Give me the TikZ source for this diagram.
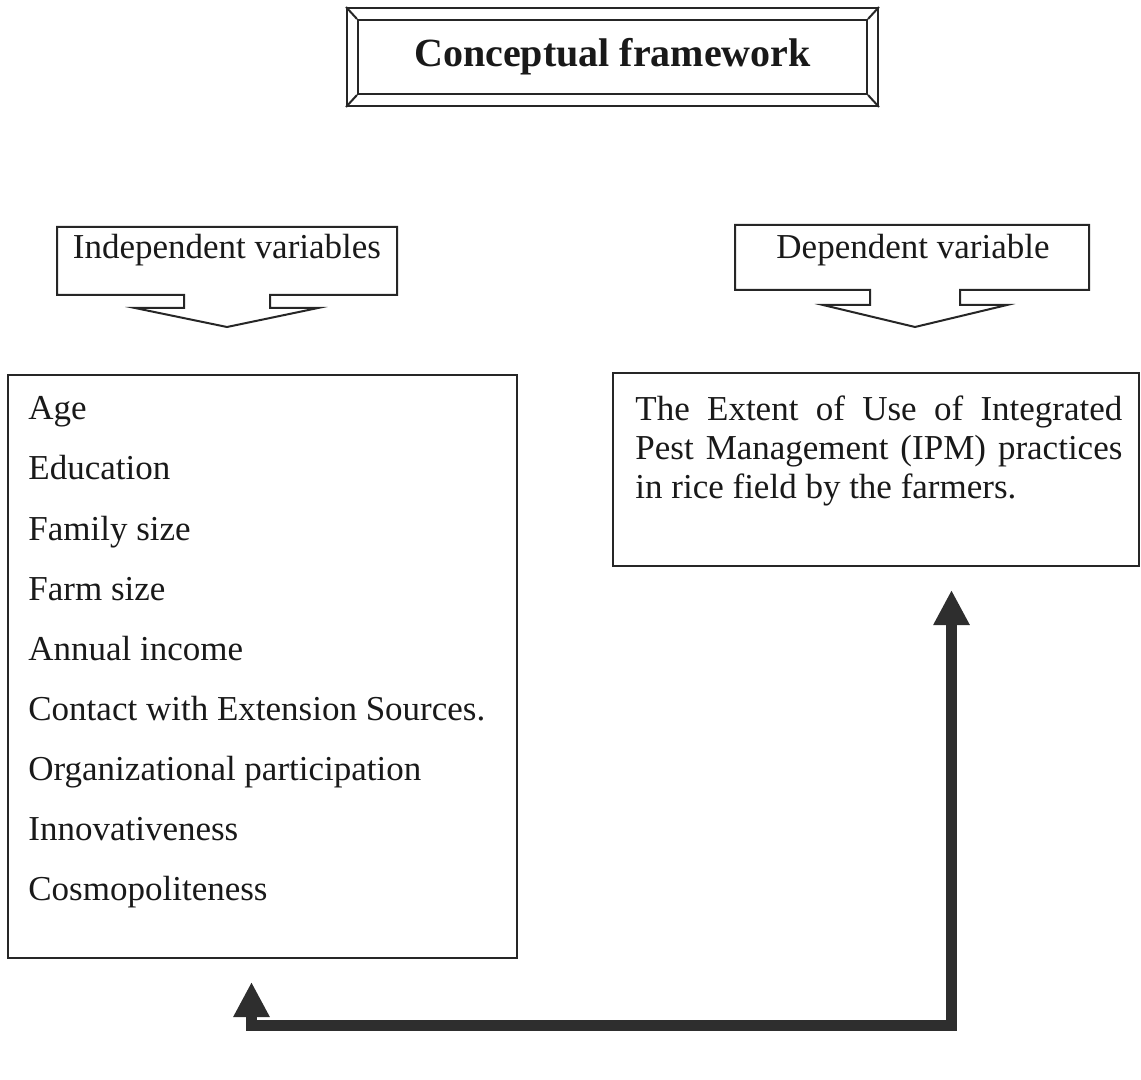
\documentclass[tikz,border=0pt]{standalone}
\usepackage{fontspec}
\setmainfont{Liberation Serif}
\usetikzlibrary{arrows.meta}
\begin{document}
\begin{tikzpicture}[x=0.5pt,y=-0.5pt,
  boxline/.style={draw=black!85,line width=1pt},
  bodytext/.style={inner sep=0pt,font=\fontsize{17.5}{19.5}\selectfont,text=black!90},
  linktext/.style={bodytext,anchor=base west},
  flow/.style={draw=black!82,line width=5.5pt,line join=miter,
    {Triangle[width=17pt,length=17.5pt]}-{Triangle[width=17pt,length=17.5pt]}}]
\useasboundingbox (0,0) rectangle (1141,1080);
% title
\node[boxline,minimum width=265.5pt,minimum height=49pt,inner sep=0pt] (titleout) at (612.5,57) {};
\node[boxline,minimum width=254.5pt,minimum height=37pt,inner sep=0pt,
      font=\fontsize{20}{24}\selectfont\bfseries,text=black!90] (title) at (612.5,57) {Conceptual framework};
\foreach \c in {north west,north east,south west,south east}
  \draw[boxline] (titleout.\c) -- (title.\c);
% independent variables callout
\draw[boxline] (57,227) -- (397,227) -- (397,295) -- (270,295) -- (270,308) -- (318,308)
  -- (227,327) -- (135,308) -- (184,308) -- (184,295) -- (57,295) -- cycle;
\node[bodytext] (indeplabel) at (227,250) {Independent variables};
% dependent variable callout
\draw[boxline] (735,225) -- (1089,225) -- (1089,290) -- (960,290) -- (960,305) -- (1007,305)
  -- (915,327) -- (823,305) -- (870,305) -- (870,290) -- (735,290) -- cycle;
\node[bodytext] (deplabel) at (913,250) {Dependent variable};
% boxes
\node[boxline,minimum width=254.5pt,minimum height=291.5pt,inner sep=0pt] (indep) at (262.5,666.5) {};
\node[boxline,minimum width=263pt,minimum height=96.5pt,inner sep=0pt] (dep) at (876,469.5) {};
% independent variable list
\node[linktext] (v1) at (28,420) {Age};
\node[linktext] (v2) at (28,480) {Education};
\node[linktext] (v3) at (28,540) {Family size};
\node[linktext] (v4) at (28,600) {Farm size};
\node[linktext] (v5) at (28,660) {Annual income};
\node[linktext] (v6) at (28,720) {Contact with Extension Sources.};
\node[linktext] (v7) at (28,780) {Organizational participation};
\node[linktext] (v8) at (28,840) {Innovativeness};
\node[linktext] (v9) at (28,900) {Cosmopoliteness};
% dependent text
\node[bodytext,anchor=north west,text width=243.5pt,align=justify] (deptext) at (635,395)
  {\hyphenpenalty=10000 The Extent of Use of Integrated\linebreak Pest Management (IPM) practices\linebreak in rice field by the farmers.};
% connector
\coordinate (lt) at (251.5,982);
\coordinate (bl) at (251.5,1025);
\coordinate (br) at (951.5,1025);
\coordinate (rt) at (951.5,590);
\draw[flow] (lt) -- (bl) -- (br) -- (rt);
\end{tikzpicture}
\end{document}
